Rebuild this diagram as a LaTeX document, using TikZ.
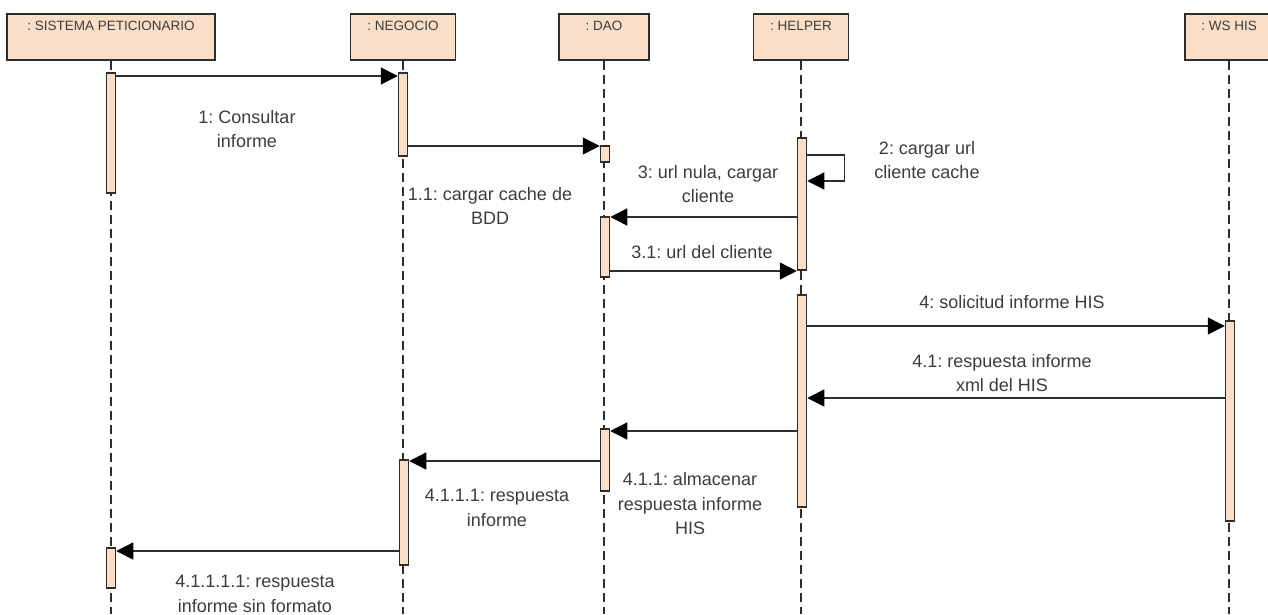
\documentclass[tikz,border=0pt]{standalone}
\usepackage{fontspec}
\setmainfont{Liberation Sans}
\frenchspacing
\usetikzlibrary{arrows.meta}
\definecolor{peach}{RGB}{251,222,199}
\definecolor{edge}{RGB}{45,45,45}
\definecolor{txt}{RGB}{60,60,60}
\tikzset{
  hdr/.style={draw=edge, line width=1.8pt, fill=peach, inner sep=0pt, minimum height=46pt},
  hdrtxt/.style={text=txt, font=\fontsize{13.5}{16}\selectfont, inner sep=0pt, anchor=north},
  bar/.style={draw=edge, line width=1.5pt, fill=peach, inner sep=0pt, minimum width=9pt, anchor=north},
  life/.style={draw=edge, line width=1.2pt, dash pattern=on 9pt off 5pt},
  msg/.style={draw=edge, line width=1.4pt, -{Triangle[length=17pt,width=17pt,fill=black,color=black]}},
  lbl/.style={text=txt, font=\fontsize{18}{24.5}\selectfont, align=center, inner sep=0pt}
}
\begin{document}
\begin{tikzpicture}[x=1pt,y=-1pt]
\useasboundingbox (0,0) rectangle (1268,614);
% lifeline headers
\node[hdr, minimum width=208pt] (h1) at (111,37) {};
\node[hdr, minimum width=105pt] (h2) at (403,37) {};
\node[hdr, minimum width=90pt]  (h3) at (604,37) {};
\node[hdr, minimum width=95pt]  (h4) at (801,37) {};
\node[hdr, minimum width=88pt]  (h5) at (1229,37) {};
\node[hdrtxt] (t1) at ([yshift=-8pt]h1.north) {: SISTEMA PETICIONARIO};
\node[hdrtxt] (t2) at ([yshift=-8pt]h2.north) {: NEGOCIO};
\node[hdrtxt] (t3) at ([yshift=-8pt]h3.north) {: DAO};
\node[hdrtxt] (t4) at ([yshift=-8pt]h4.north) {: HELPER};
\node[hdrtxt] (t5) at ([yshift=-8pt]h5.north) {: WS HIS};
% bottom ends of lifelines
\coordinate (e1) at (111,614);
\coordinate (e2) at (403,614);
\coordinate (e3) at (604,614);
\coordinate (e4) at (801,614);
\coordinate (e5) at (1229,614);
\draw[life] (h1.south) -- (e1);
\draw[life] (h2.south) -- (e2);
\draw[life] (h3.south) -- (e3);
\draw[life] (h4.south) -- (e4);
\draw[life] (h5.south) -- (e5);
% activation bars
\node[bar, minimum height=120pt] (sb1) at (111,72) {};
\node[bar, minimum height=40pt]  (sb2) at (111,547) {};
\node[bar, minimum height=83pt]  (nb1) at (403,72) {};
\node[bar, minimum height=105pt] (nb2) at (404,459) {};
\node[bar, minimum height=16pt]  (db1) at (605,145) {};
\node[bar, minimum height=60pt]  (db2) at (605,216) {};
\node[bar, minimum height=62pt]  (db3) at (605,428) {};
\node[bar, minimum height=132pt] (hb1) at (802,137) {};
\node[bar, minimum height=212pt] (hb2) at (802,294) {};
\node[bar, minimum height=200pt] (wb1) at (1230,320) {};
% message levels
\coordinate (m1) at (0,76);
\coordinate (m11) at (0,146);
\coordinate (s1) at (0,155);
\coordinate (s2) at (0,181);
\coordinate (m3) at (0,217);
\coordinate (m31) at (0,271);
\coordinate (m4) at (0,326);
\coordinate (m41) at (0,398);
\coordinate (m411) at (0,431);
\coordinate (m4111) at (0,461);
\coordinate (m41111) at (0,551);
% messages
\draw[msg] (sb1.east |- m1) -- (nb1.west |- m1);
\draw[msg] (nb1.east |- m11) -- (db1.west |- m11);
\draw[msg] (hb1.east |- s1) -- ++(37,0) |- (hb1.east |- s2);
\draw[msg] (hb1.west |- m3) -- (db2.east |- m3);
\draw[msg] (db2.east |- m31) -- (hb1.west |- m31);
\draw[msg] (hb2.east |- m4) -- (wb1.west |- m4);
\draw[msg] (wb1.west |- m41) -- (hb2.east |- m41);
\draw[msg] (hb2.west |- m411) -- (db3.east |- m411);
\draw[msg] (db3.west |- m4111) -- (nb2.east |- m4111);
\draw[msg] (nb2.west |- m41111) -- (sb2.east |- m41111);
% labels
\node[lbl] (l1) at (247,129) {1: Consultar\\informe};
\node[lbl] (l11) at (490,206) {1.1: cargar cache de\\BDD};
\node[lbl] (l2) at (927,160) {2: cargar url\\cliente cache};
\node[lbl] (l3) at (708,184) {3: url nula, cargar\\cliente};
\node[lbl] (l31) at (702,252) {3.1: url del cliente};
\node[lbl] (l4) at (1012,302) {4: solicitud informe HIS};
\node[lbl] (l41) at (1002,373) {4.1: respuesta informe\\xml del HIS};
\node[lbl] (l411) at (690,504) {4.1.1: almacenar\\respuesta informe\\HIS};
\node[lbl] (l4111) at (497,508) {4.1.1.1: respuesta\\informe};
\node[lbl] (l41111) at (255,594) {4.1.1.1.1: respuesta\\informe sin formato};
\end{tikzpicture}
\end{document}
